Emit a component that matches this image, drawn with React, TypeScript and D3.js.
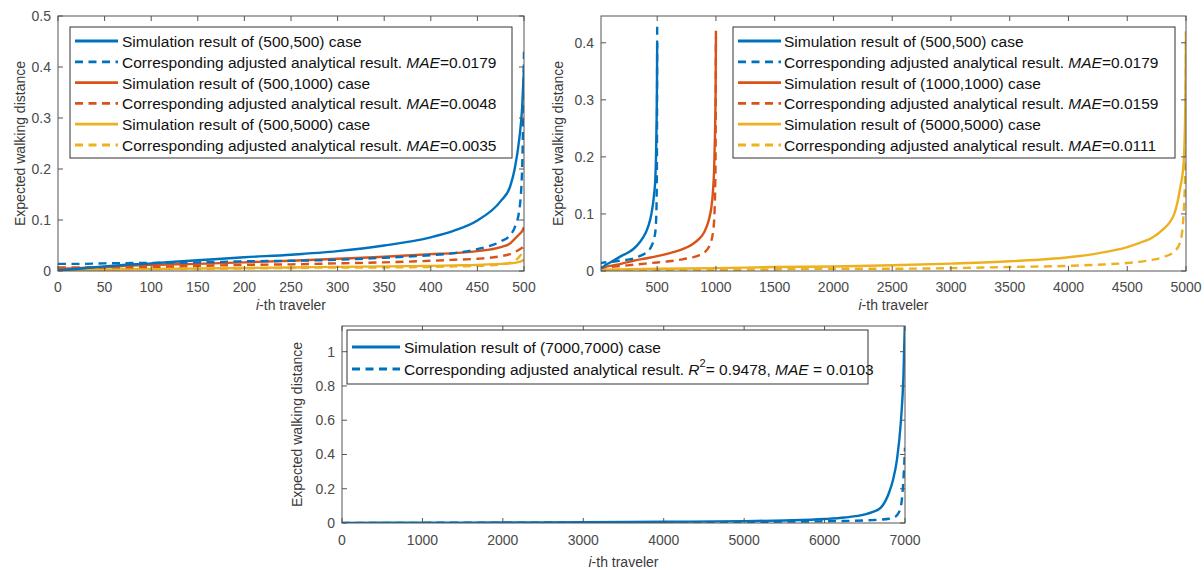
import React from "react";
import * as d3 from "d3";

// MATLAB default line colours
const BLUE = "#0072BD";
const ORANGE = "#D95319";
const YELLOW = "#EDB120";

const FONT = "'Liberation Sans', Arial, Helvetica, sans-serif";

// ---- (500,500) case, shared by both upper panels ----
const X_500 = [0, 25, 50, 100, 150, 200, 250, 300, 350, 400, 425, 450, 475, 485, 490, 495, 498, 500];
const SIM_500_500 = [0.001, 0.005, 0.009, 0.015, 0.021, 0.027, 0.032, 0.039, 0.05, 0.066, 0.079, 0.099, 0.137, 0.165, 0.2, 0.26, 0.32, 0.4];
const ANA_500_500 = [0.014, 0.014, 0.015, 0.016, 0.017, 0.019, 0.02, 0.022, 0.026, 0.031, 0.035, 0.043, 0.058, 0.07, 0.085, 0.12, 0.2, 0.43];

// ---- (500,1000) case ----
const SIM_500_1000 = [0.004, 0.006, 0.008, 0.012, 0.014, 0.017, 0.02, 0.024, 0.028, 0.033, 0.035, 0.039, 0.047, 0.054, 0.063, 0.072, 0.078, 0.086];
const ANA_500_1000 = [0.007, 0.007, 0.007, 0.008, 0.01, 0.012, 0.013, 0.015, 0.017, 0.02, 0.022, 0.024, 0.029, 0.033, 0.037, 0.042, 0.046, 0.05];

// ---- (500,5000) case ----
const SIM_500_5000 = [0.001, 0.002, 0.003, 0.004, 0.005, 0.006, 0.007, 0.008, 0.009, 0.01, 0.011, 0.012, 0.014, 0.015, 0.016, 0.018, 0.02, 0.022];
const ANA_500_5000 = [0.003, 0.003, 0.003, 0.004, 0.004, 0.005, 0.006, 0.007, 0.007, 0.008, 0.009, 0.01, 0.013, 0.016, 0.02, 0.028, 0.036, 0.045];

// ---- (1000,1000) case ----
const X_1000 = [0, 100, 200, 300, 400, 500, 600, 700, 800, 850, 900, 940, 960, 975, 985, 992, 997, 1000];
const SIM_1000_1000 = [0.005, 0.009, 0.013, 0.018, 0.022, 0.026, 0.031, 0.037, 0.047, 0.055, 0.068, 0.09, 0.11, 0.14, 0.18, 0.24, 0.31, 0.41];
const ANA_1000_1000 = [0.006, 0.007, 0.009, 0.011, 0.013, 0.015, 0.017, 0.02, 0.024, 0.027, 0.032, 0.042, 0.052, 0.068, 0.09, 0.13, 0.2, 0.43];

// ---- (5000,5000) case ----
const X_5000 = [0, 500, 1000, 1500, 2000, 2500, 3000, 3500, 4000, 4250, 4500, 4600, 4700, 4800, 4900, 4950, 4980, 4995, 5000];
const SIM_5000_5000 = [0.002, 0.004, 0.005, 0.007, 0.008, 0.01, 0.013, 0.017, 0.024, 0.031, 0.042, 0.049, 0.057, 0.072, 0.1, 0.145, 0.19, 0.3, 0.42];
const ANA_5000_5000 = [0.001, 0.002, 0.002, 0.003, 0.004, 0.004, 0.005, 0.007, 0.009, 0.011, 0.014, 0.016, 0.019, 0.024, 0.034, 0.05, 0.1, 0.2, 0.42];

// ---- (7000,7000) case ----
const X_7000 = [0, 1000, 2000, 3000, 4000, 5000, 5500, 6000, 6250, 6500, 6600, 6700, 6800, 6850, 6900, 6950, 6980, 7000];
const SIM_7000_7000 = [0.001, 0.002, 0.003, 0.005, 0.007, 0.011, 0.015, 0.023, 0.032, 0.05, 0.065, 0.09, 0.175, 0.25, 0.37, 0.6, 0.85, 1.2];
const ANA_7000_7000 = [0.0, 0.001, 0.002, 0.003, 0.004, 0.006, 0.008, 0.01, 0.012, 0.015, 0.017, 0.02, 0.025, 0.03, 0.045, 0.1, 0.25, 0.44];

// ---- tick values ----
const TL_X_TICKS = [0, 50, 100, 150, 200, 250, 300, 350, 400, 450, 500];
const TL_Y_TICKS = [0, 0.1, 0.2, 0.3, 0.4, 0.5];
const TR_X_TICKS = [500, 1000, 1500, 2000, 2500, 3000, 3500, 4000, 4500, 5000];
const TR_Y_TICKS = [0, 0.1, 0.2, 0.3, 0.4];
const B_X_TICKS = [0, 1000, 2000, 3000, 4000, 5000, 6000, 7000];
const B_Y_TICKS = [0, 0.2, 0.4, 0.6, 0.8, 1];

type Seg = { t: string; i?: boolean; sup?: boolean };
type Series = { x: number[]; y: number[]; color: string; dashed: boolean };
type LegendRow = { color: string; dashed: boolean; segs: Seg[] };
type Legend = {
  x: number; y: number; w: number; h: number;
  firstRow: number; gap: number;
  sampleX0: number; sampleX1: number; textX: number;
  rows: LegendRow[];
};
type PanelCfg = {
  id: string;
  left: number; top: number; right: number; bottom: number;
  xDomain: [number, number]; yDomain: [number, number];
  xTicks: number[]; yTicks: number[];
  series: Series[];
  legend: Legend;
  yLabelX: number; xLabelY: number; xTickY: number;
};

const sim = (c: string, t: string): Seg[] => [{ t: `Simulation result of ${t} case` }];
const ana = (v: string): Seg[] => [
  { t: "Corresponding adjusted analytical result. " },
  { t: "MAE", i: true },
  { t: `=${v}` },
];

const PANELS: PanelCfg[] = [
  {
    id: "tl",
    left: 58, top: 16, right: 524, bottom: 271,
    xDomain: [0, 500], yDomain: [0, 0.5],
    xTicks: TL_X_TICKS, yTicks: TL_Y_TICKS,
    series: [
      { x: X_500, y: SIM_500_5000, color: YELLOW, dashed: false },
      { x: X_500, y: ANA_500_5000, color: YELLOW, dashed: true },
      { x: X_500, y: SIM_500_1000, color: ORANGE, dashed: false },
      { x: X_500, y: ANA_500_1000, color: ORANGE, dashed: true },
      { x: X_500, y: SIM_500_500, color: BLUE, dashed: false },
      { x: X_500, y: ANA_500_500, color: BLUE, dashed: true },
    ],
    legend: {
      x: 70, y: 27, w: 442, h: 131, firstRow: 41, gap: 20.8,
      sampleX0: 75, sampleX1: 118, textX: 122,
      rows: [
        { color: BLUE, dashed: false, segs: sim(BLUE, "(500,500)") },
        { color: BLUE, dashed: true, segs: ana("0.0179") },
        { color: ORANGE, dashed: false, segs: sim(ORANGE, "(500,1000)") },
        { color: ORANGE, dashed: true, segs: ana("0.0048") },
        { color: YELLOW, dashed: false, segs: sim(YELLOW, "(500,5000)") },
        { color: YELLOW, dashed: true, segs: ana("0.0035") },
      ],
    },
    yLabelX: 20, xLabelY: 305, xTickY: 287,
  },
  {
    id: "tr",
    left: 601, top: 16, right: 1186, bottom: 271,
    xDomain: [22, 5000], yDomain: [0, 0.447],
    xTicks: TR_X_TICKS, yTicks: TR_Y_TICKS,
    series: [
      { x: X_5000, y: SIM_5000_5000, color: YELLOW, dashed: false },
      { x: X_5000, y: ANA_5000_5000, color: YELLOW, dashed: true },
      { x: X_1000, y: SIM_1000_1000, color: ORANGE, dashed: false },
      { x: X_1000, y: ANA_1000_1000, color: ORANGE, dashed: true },
      { x: X_500, y: SIM_500_500, color: BLUE, dashed: false },
      { x: X_500, y: ANA_500_500, color: BLUE, dashed: true },
    ],
    legend: {
      x: 733, y: 27, w: 442, h: 131, firstRow: 41, gap: 20.8,
      sampleX0: 738, sampleX1: 781, textX: 784,
      rows: [
        { color: BLUE, dashed: false, segs: sim(BLUE, "(500,500)") },
        { color: BLUE, dashed: true, segs: ana("0.0179") },
        { color: ORANGE, dashed: false, segs: sim(ORANGE, "(1000,1000)") },
        { color: ORANGE, dashed: true, segs: ana("0.0159") },
        { color: YELLOW, dashed: false, segs: sim(YELLOW, "(5000,5000)") },
        { color: YELLOW, dashed: true, segs: ana("0.0111") },
      ],
    },
    yLabelX: 558, xLabelY: 305, xTickY: 287,
  },
  {
    id: "b",
    left: 342, top: 326, right: 905, bottom: 523,
    xDomain: [0, 7000], yDomain: [0, 1.15],
    xTicks: B_X_TICKS, yTicks: B_Y_TICKS,
    series: [
      { x: X_7000, y: SIM_7000_7000, color: BLUE, dashed: false },
      { x: X_7000, y: ANA_7000_7000, color: BLUE, dashed: true },
    ],
    legend: {
      x: 347, y: 330, w: 521, h: 54, firstRow: 347, gap: 22,
      sampleX0: 352, sampleX1: 400, textX: 404,
      rows: [
        { color: BLUE, dashed: false, segs: sim(BLUE, "(7000,7000)") },
        {
          color: BLUE, dashed: true,
          segs: [
            { t: "Corresponding adjusted analytical result. " },
            { t: "R", i: true },
            { t: "2", sup: true },
            { t: "= 0.9478, " },
            { t: "MAE", i: true },
            { t: " = 0.0103" },
          ],
        },
      ],
    },
    yLabelX: 297, xLabelY: 562, xTickY: 540,
  },
];

const LINE_W = 2.4;
const DASH = "8,5.5";
const AXIS = "#555";
const TICK_TEXT = "#4a4a4a";
const TICK_LEN = 5;

const fmt = (v: number) => String(+v.toFixed(3));

function LegendText({ x, y, segs }: { x: number; y: number; segs: Seg[] }) {
  const out: React.ReactNode[] = [];
  let lift = 0;
  segs.forEach((s, k) => {
    let dy: number | undefined;
    if (s.sup) {
      dy = -6;
      lift = 6;
    } else if (lift) {
      dy = lift;
      lift = 0;
    }
    out.push(
      <tspan
        key={k}
        dy={dy}
        fontStyle={s.i ? "italic" : "normal"}
        fontSize={s.sup ? 11 : undefined}
      >
        {s.t}
      </tspan>
    );
  });
  return (
    <text x={x} y={y} dominantBaseline="central" fontSize={15.5} fill="#111" xmlSpace="preserve" style={{ whiteSpace: "pre" }}>
      {out}
    </text>
  );
}

function Panel({ cfg }: { cfg: PanelCfg }) {
  const xs = d3.scaleLinear().domain(cfg.xDomain).range([cfg.left, cfg.right]);
  const ys = d3.scaleLinear().domain(cfg.yDomain).range([cfg.bottom, cfg.top]);
  const line = d3
    .line<[number, number]>()
    .x((d) => xs(d[0]))
    .y((d) => ys(d[1]))
    .curve(d3.curveMonotoneX);
  const clipId = `clip-${cfg.id}`;
  const L = cfg.legend;
  const midX = (cfg.left + cfg.right) / 2;
  const midY = (cfg.top + cfg.bottom) / 2;

  return (
    <g fontFamily={FONT}>
      <defs>
        <clipPath id={clipId}>
          <rect x={cfg.left} y={cfg.top} width={cfg.right - cfg.left} height={cfg.bottom - cfg.top} />
        </clipPath>
      </defs>

      {/* data lines */}
      <g clipPath={`url(#${clipId})`}>
        {cfg.series.map((s, k) => (
          <path
            key={k}
            d={line(s.x.map((xv, j) => [xv, s.y[j]] as [number, number])) || ""}
            fill="none"
            stroke={s.color}
            strokeWidth={LINE_W}
            strokeDasharray={s.dashed ? DASH : undefined}
            strokeLinejoin="round"
          />
        ))}
      </g>

      {/* box and inward ticks on all four sides */}
      <rect
        x={cfg.left}
        y={cfg.top}
        width={cfg.right - cfg.left}
        height={cfg.bottom - cfg.top}
        fill="none"
        stroke={AXIS}
        strokeWidth={1}
      />
      {cfg.xTicks.map((t) => (
        <g key={`x${t}`}>
          <line x1={xs(t)} x2={xs(t)} y1={cfg.bottom} y2={cfg.bottom - TICK_LEN} stroke={AXIS} />
          <line x1={xs(t)} x2={xs(t)} y1={cfg.top} y2={cfg.top + TICK_LEN} stroke={AXIS} />
          <text x={xs(t)} y={cfg.xTickY} textAnchor="middle" dominantBaseline="central" fontSize={14} fill={TICK_TEXT}>
            {fmt(t)}
          </text>
        </g>
      ))}
      {cfg.yTicks.map((t) => (
        <g key={`y${t}`}>
          <line x1={cfg.left} x2={cfg.left + TICK_LEN} y1={ys(t)} y2={ys(t)} stroke={AXIS} />
          <line x1={cfg.right} x2={cfg.right - TICK_LEN} y1={ys(t)} y2={ys(t)} stroke={AXIS} />
          <text x={cfg.left - 7} y={ys(t)} textAnchor="end" dominantBaseline="central" fontSize={14} fill={TICK_TEXT}>
            {fmt(t)}
          </text>
        </g>
      ))}

      {/* axis titles */}
      <text x={midX} y={cfg.xLabelY} textAnchor="middle" dominantBaseline="central" fontSize={14} fill="#3a3a3a">
        <tspan fontStyle="italic">i</tspan>-th traveler
      </text>
      <text
        transform={`translate(${cfg.yLabelX},${midY}) rotate(-90)`}
        textAnchor="middle"
        dominantBaseline="central"
        fontSize={14}
        fill="#3a3a3a"
      >
        Expected walking distance
      </text>

      {/* legend */}
      <rect x={L.x} y={L.y} width={L.w} height={L.h} fill="#fff" stroke="#333" strokeWidth={1} />
      {L.rows.map((r, k) => {
        const ry = L.firstRow + k * L.gap;
        return (
          <g key={k}>
            <line
              x1={L.sampleX0}
              x2={L.sampleX1}
              y1={ry}
              y2={ry}
              stroke={r.color}
              strokeWidth={LINE_W + 0.4}
              strokeDasharray={r.dashed ? DASH : undefined}
            />
            <LegendText x={L.textX} y={ry} segs={r.segs} />
          </g>
        );
      })}
    </g>
  );
}

export default function App() {
  return (
    <svg
      width={1204}
      height={570}
      viewBox="0 0 1204 570"
      style={{ position: "absolute", left: 0, top: 0, background: "#fff" }}
    >
      <rect width={1204} height={570} fill="#fff" />
      {PANELS.map((p) => (
        <Panel key={p.id} cfg={p} />
      ))}
    </svg>
  );
}
